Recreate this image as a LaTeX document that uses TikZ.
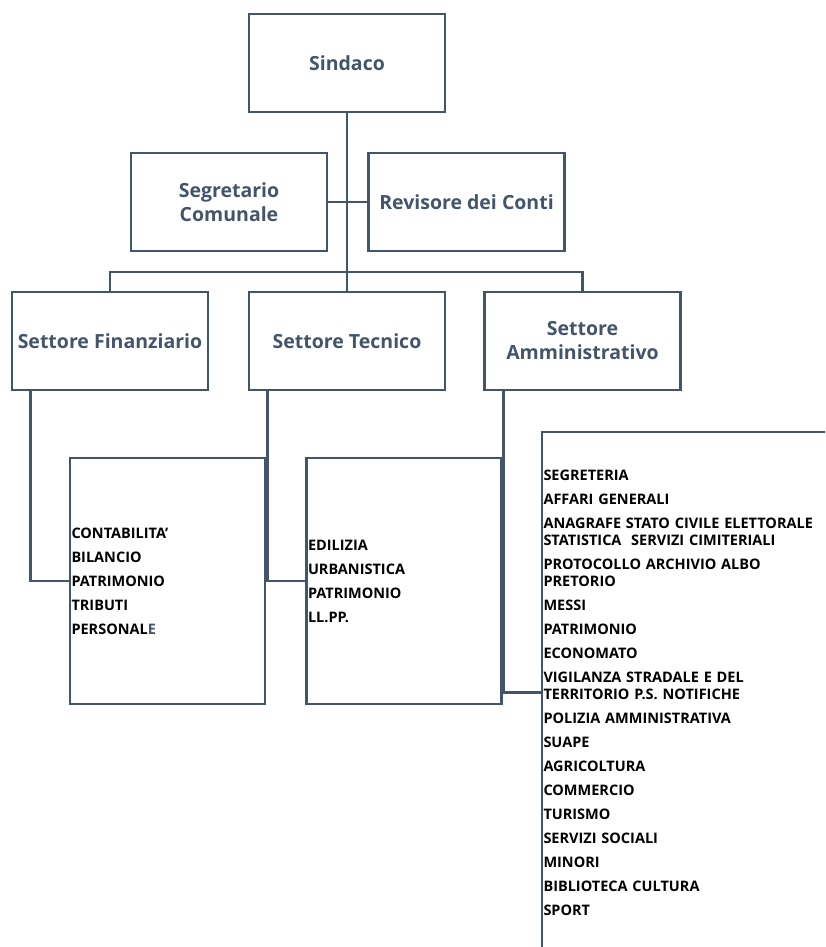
\documentclass[tikz,border=0pt]{standalone}
\usepackage{fontspec}
\setmainfont{Open Sans}
\usetikzlibrary{calc}
\definecolor{slate}{RGB}{68,84,106}
\tikzset{
  hdr/.style={draw=slate, line width=2.6pt, minimum width=196pt, minimum height=98pt,
    inner sep=2pt, font=\fontsize{19.5}{24}\selectfont\bfseries, text=slate, align=center},
  lst/.style={draw=slate, line width=2.6pt, minimum height=246pt, text width=192pt,
    inner xsep=1.5pt, font=\fontsize{14.5}{17}\selectfont\bfseries, align=left, text=black},
  wire/.style={draw=slate, line width=2.6pt}
}
\begin{document}
\begin{tikzpicture}[x=1pt,y=-1pt]
\useasboundingbox (0,0) rectangle (825,947);
\clip (0,0) rectangle (825,947);
\node[hdr] (sin) at (347,63) {Sindaco};
\node[hdr] (seg) at (229,202) {Segretario\\Comunale};
\node[hdr] (rev) at (466.5,202) {Revisore dei Conti};
\node[hdr] (fin) at (110,341) {Settore Finanziario};
\node[hdr] (tec) at (347,341) {Settore Tecnico};
\node[hdr] (amm) at (582.5,341) {Settore\\Amministrativo};
\coordinate (bar) at (347,272);

\node[lst] (l1) at (167.5,581) {CONTABILITA’\\[7pt]BILANCIO\\[7pt]PATRIMONIO\\[7pt]TRIBUTI\\[7pt]PERSONAL\textcolor{slate}{E}};
\node[lst] (l2) at (404,581) {EDILIZIA\\[7pt]URBANISTICA\\[7pt]PATRIMONIO\\[7pt]LL.PP.};
\node[lst, text width=285pt, minimum height=521pt] (l3) at (686,692.5) {SEGRETERIA\\[7pt]AFFARI GENERALI\\[7pt]ANAGRAFE STATO CIVILE ELETTORALE\\STATISTICA\ \ SERVIZI CIMITERIALI\\[7pt]PROTOCOLLO ARCHIVIO ALBO\\PRETORIO\\[7pt]MESSI\\[7pt]PATRIMONIO\\[7pt]ECONOMATO\\[7pt]VIGILANZA STRADALE E DEL\\TERRITORIO P.S. NOTIFICHE\\[7pt]POLIZIA AMMINISTRATIVA\\[7pt]SUAPE\\[7pt]AGRICOLTURA\\[7pt]COMMERCIO\\[7pt]TURISMO\\[7pt]SERVIZI SOCIALI\\[7pt]MINORI\\[7pt]BIBLIOTECA CULTURA\\[7pt]SPORT};

\draw[wire] (sin.south) -- (tec.north);
\draw[wire] (seg.east) -- (rev.west);
\draw[wire] (fin.north) |- (bar) -| (amm.north);
\draw[wire] ([xshift=20pt]fin.south west) |- (l1.west);
\draw[wire] ([xshift=20pt]tec.south west) |- (l2.west);
\draw[wire] ([xshift=20pt]amm.south west) |- (l3.west);
\end{tikzpicture}
\end{document}
